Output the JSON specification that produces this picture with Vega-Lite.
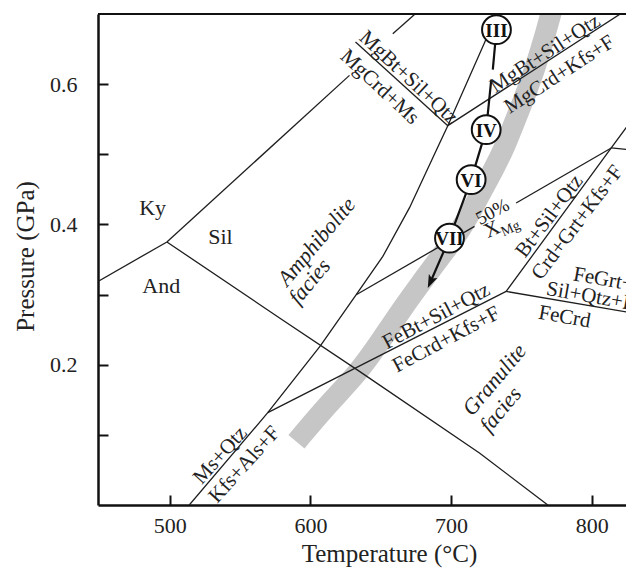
{
  "$schema": "https://vega.github.io/schema/vega-lite/v6.json",
  "width": 528,
  "height": 491,
  "autosize": {"type": "none"},
  "padding": {"left": 98, "top": 14, "right": 0, "bottom": 64},
  "background": "white",
  "config": {"view": {"stroke": null}, "font": "Liberation Serif"},
  "encoding": {
    "x": {
      "field": "T", "type": "quantitative",
      "scale": {"domain": [449, 824.4], "nice": false, "zero": false},
      "axis": {
        "values": [500, 600, 700, 800], "format": "d", "grid": false,
        "title": "Temperature (°C)",
        "tickSize": -10, "tickWidth": 2, "tickColor": "#111",
        "domainColor": "#111", "domainWidth": 2.5,
        "labelFont": "Liberation Serif", "labelFontSize": 22, "labelColor": "#222", "labelPadding": 20,
        "titleFont": "Liberation Serif", "titleFontSize": 25, "titleFontWeight": "normal", "titleColor": "#222",
        "titleX": 291, "titleY": 56, "titleAlign": "center", "titleBaseline": "alphabetic"
      }
    },
    "y": {
      "field": "P", "type": "quantitative",
      "scale": {"domain": [0, 0.7], "nice": false, "zero": false},
      "axis": {
        "values": [0.1, 0.2, 0.3, 0.4, 0.5, 0.6], "grid": false,
        "labelExpr": "round(datum.value*10) % 2 == 0 ? format(datum.value, '.1f') : ''",
        "title": "Pressure (GPa)",
        "tickSize": -10, "tickWidth": 2, "tickColor": "#111",
        "domainColor": "#111", "domainWidth": 2.5,
        "labelFont": "Liberation Serif", "labelFontSize": 22, "labelColor": "#222", "labelPadding": 31,
        "titleFont": "Liberation Serif", "titleFontSize": 25, "titleFontWeight": "normal", "titleColor": "#222",
        "titleX": -65, "titleY": 242, "titleAngle": -90, "titleAlign": "center", "titleBaseline": "alphabetic"
      }
    }
  },
  "layer": [
    {
      "data": {"values": [
        {"T": 590.1, "P": 0.0902}, {"T": 610.8, "P": 0.1401}, {"T": 634.2, "P": 0.1886},
        {"T": 650.6, "P": 0.2357}, {"T": 666.2, "P": 0.2827}, {"T": 680.4, "P": 0.3212},
        {"T": 691.8, "P": 0.3526}, {"T": 703.2, "P": 0.3811}, {"T": 713.1, "P": 0.4139},
        {"T": 722.4, "P": 0.4495}, {"T": 730.2, "P": 0.478}, {"T": 738.0, "P": 0.5094},
        {"T": 745.8, "P": 0.5493}, {"T": 754.4, "P": 0.5921}, {"T": 762.9, "P": 0.642},
        {"T": 771.4, "P": 0.7019}, {"T": 774.2, "P": 0.728}
      ]},
      "mark": {"type": "line", "stroke": "#c6c6c6", "strokeWidth": 21, "strokeCap": "butt", "interpolate": "basis", "clip": true}
    },
    {
      "data": {"values": [
        {"id": "kyand", "T": 449, "P": 0.3188}, {"id": "kyand", "T": 498, "P": 0.375},
        {"id": "kysil1", "T": 498, "P": 0.375}, {"id": "kysil1", "T": 627.8, "P": 0.6125},
        {"id": "kysil2", "T": 658.6, "P": 0.672}, {"id": "kysil2", "T": 676.7, "P": 0.704},
        {"id": "andsil", "T": 498, "P": 0.375}, {"id": "andsil", "T": 578.1, "P": 0.2666},
        {"id": "andsil", "T": 634.9, "P": 0.1905}, {"id": "andsil", "T": 720.2, "P": 0.0741},
        {"id": "andsil", "T": 768.8, "P": 0},
        {"id": "msout", "T": 513.9, "P": 0}, {"id": "msout", "T": 569.7, "P": 0.1316},
        {"id": "msout", "T": 607.2, "P": 0.2271}, {"id": "msout", "T": 632.6, "P": 0.2998},
        {"id": "msout", "T": 651.5, "P": 0.3544}, {"id": "msout", "T": 670.5, "P": 0.4239},
        {"id": "msout", "T": 689.7, "P": 0.5066}, {"id": "msout", "T": 697.7, "P": 0.5408},
        {"id": "msout", "T": 723.8, "P": 0.6591}, {"id": "msout", "T": 734.5, "P": 0.71},
        {"id": "mgms", "T": 632.1, "P": 0.6601}, {"id": "mgms", "T": 697.7, "P": 0.5408},
        {"id": "mgkfs", "T": 697.7, "P": 0.5408}, {"id": "mgkfs", "T": 830, "P": 0.7126},
        {"id": "febt", "T": 569.7, "P": 0.1316}, {"id": "febt", "T": 739.2, "P": 0.3045},
        {"id": "fegrt", "T": 739.2, "P": 0.3045}, {"id": "fegrt", "T": 830, "P": 0.2735},
        {"id": "btsil", "T": 739.2, "P": 0.3045}, {"id": "btsil", "T": 813.9, "P": 0.509}, {"id": "btsil", "T": 830, "P": 0.553},
        {"id": "right", "T": 813.9, "P": 0.509}, {"id": "right", "T": 830, "P": 0.506},
        {"id": "xmg1", "T": 632.6, "P": 0.2998}, {"id": "xmg1", "T": 716.7, "P": 0.3972},
        {"id": "xmg2", "T": 746.3, "P": 0.4306}, {"id": "xmg2", "T": 813.9, "P": 0.509}
      ]},
      "mark": {"type": "line", "stroke": "#1e1e1e", "strokeWidth": 1.3, "clip": true},
      "encoding": {"detail": {"field": "id"}}
    },
    {
      "data": {"values": [{"T": 449, "T2": 824.4, "P": 0.7}]},
      "mark": {"type": "rule", "stroke": "#111", "strokeWidth": 2},
      "encoding": {"x2": {"field": "T2"}}
    },
    {
      "data": {"values": [
        {"id": "p1", "T": 732.3, "P": 0.6776}, {"id": "p1", "T": 729.7, "P": 0.6206},
        {"id": "p2", "T": 728.6, "P": 0.6064}, {"id": "p2", "T": 725.0, "P": 0.5351},
        {"id": "p2", "T": 714.3, "P": 0.4638}, {"id": "p2", "T": 698.9, "P": 0.3804},
        {"id": "p2", "T": 685.7, "P": 0.3194}
      ]},
      "mark": {"type": "line", "stroke": "#111", "strokeWidth": 2.2},
      "encoding": {"detail": {"field": "id"}}
    },
    {
      "data": {"values": [{"T": 685.7, "P": 0.3194}]},
      "mark": {"type": "point", "shape": "M0,1L-0.6,-0.7L0,-0.35L0.6,-0.7Z", "size": 240, "angle": 24, "filled": true, "color": "#111", "opacity": 1}
    },
    {
      "data": {"values": [
        {"s": "III", "T": 732.3, "P": 0.6776}, {"s": "IV", "T": 725.0, "P": 0.5351},
        {"s": "VI", "T": 714.3, "P": 0.4638}, {"s": "VII", "T": 698.9, "P": 0.3804}
      ]},
      "mark": {"type": "point", "shape": "circle", "size": 830, "filled": true, "fill": "white", "stroke": "#111", "strokeWidth": 2, "opacity": 1}
    },
    {
      "data": {"values": [
        {"s": "III", "T": 732.3, "P": 0.6776}, {"s": "IV", "T": 725.0, "P": 0.5351},
        {"s": "VI", "T": 714.3, "P": 0.4638}, {"s": "VII", "T": 698.9, "P": 0.3804}
      ]},
      "mark": {"type": "text", "font": "Liberation Serif", "fontWeight": "bold", "fontSize": 19, "color": "#111", "align": "center", "baseline": "middle", "dy": 1},
      "encoding": {"text": {"field": "s"}}
    },
    {
      "data": {"values": [
        {"s": "Ky", "T": 487.8, "P": 0.4239}, {"s": "Sil", "T": 536.1, "P": 0.3825}, {"s": "And", "T": 494.0, "P": 0.3117}
      ]},
      "mark": {"type": "text", "font": "Liberation Serif", "fontSize": 22, "color": "#222", "align": "center", "baseline": "middle"},
      "encoding": {"text": {"field": "s"}}
    },
    {
      "data": {"values": [
        {"s": "Amphibolite", "T": 604.4, "P": 0.3754}, {"s": "facies", "T": 599.4, "P": 0.3184},
        {"s": "Granulite", "T": 730.9, "P": 0.1786}, {"s": "facies", "T": 735.2, "P": 0.1359}
      ]},
      "mark": {"type": "text", "font": "Liberation Serif", "fontStyle": "italic", "fontSize": 22, "color": "#222", "align": "center", "baseline": "middle", "angle": -50},
      "encoding": {"text": {"field": "s"}}
    },
    {
      "data": {"values": [
        {"s": "MgBt+Sil+Qtz", "T": 669.8, "P": 0.6092}, {"s": "MgCrd+Ms", "T": 649.2, "P": 0.5957}
      ]},
      "mark": {"type": "text", "font": "Liberation Serif", "fontSize": 21, "color": "#222", "align": "center", "baseline": "middle", "angle": 43},
      "encoding": {"text": {"field": "s"}}
    },
    {
      "data": {"values": [
        {"s": "MgBt+Sil+Qtz", "T": 767.0, "P": 0.6434}, {"s": "MgCrd+Kfs+F", "T": 777.1, "P": 0.6135}
      ]},
      "mark": {"type": "text", "font": "Liberation Serif", "fontSize": 21, "color": "#222", "align": "center", "baseline": "middle", "angle": -33},
      "encoding": {"text": {"field": "s"}}
    },
    {
      "data": {"values": [
        {"s": "FeBt+Sil+Qtz", "T": 689.5, "P": 0.2689}, {"s": "FeCrd+Kfs+F", "T": 696.6, "P": 0.2357}
      ]},
      "mark": {"type": "text", "font": "Liberation Serif", "fontSize": 21, "color": "#222", "align": "center", "baseline": "middle", "angle": -28},
      "encoding": {"text": {"field": "s"}}
    },
    {
      "data": {"values": [
        {"s": "Ms+Qtz", "T": 536.0, "P": 0.0706}, {"s": "Kfs+Als+F", "T": 553.2, "P": 0.0575}
      ]},
      "mark": {"type": "text", "font": "Liberation Serif", "fontSize": 21, "color": "#222", "align": "center", "baseline": "middle", "angle": -48},
      "encoding": {"text": {"field": "s"}}
    },
    {
      "data": {"values": [
        {"s": "Bt+Sil+Qtz", "T": 770.0, "P": 0.4115}, {"s": "Crd+Grt+Kfs+F", "T": 789.9, "P": 0.4025}
      ]},
      "mark": {"type": "text", "font": "Liberation Serif", "fontSize": 21, "color": "#222", "align": "center", "baseline": "middle", "angle": -53},
      "encoding": {"text": {"field": "s"}}
    },
    {
      "data": {"values": [{"s": "FeCrd", "T": 780.7, "P": 0.2678}]},
      "mark": {"type": "text", "font": "Liberation Serif", "fontSize": 21, "color": "#222", "align": "center", "baseline": "middle", "angle": 10},
      "encoding": {"text": {"field": "s"}}
    },
    {
      "data": {"values": [
        {"s": "FeGrt+", "T": 786.3, "P": 0.3205}, {"s": "Sil+Qtz+F", "T": 767.2, "P": 0.2998}
      ]},
      "mark": {"type": "text", "font": "Liberation Serif", "fontSize": 21, "color": "#222", "align": "left", "baseline": "alphabetic", "angle": 10},
      "encoding": {"text": {"field": "s"}}
    },
    {
      "data": {"values": [{"s": "50%", "T": 729.5, "P": 0.4182}]},
      "mark": {"type": "text", "font": "Liberation Serif", "fontSize": 19, "color": "#222", "align": "center", "baseline": "middle", "angle": -28},
      "encoding": {"text": {"field": "s"}}
    },
    {
      "data": {"values": [{"s": "X", "T": 729.1, "P": 0.3925}]},
      "mark": {"type": "text", "font": "Liberation Serif", "fontSize": 21, "color": "#222", "align": "center", "baseline": "middle", "angle": -25},
      "encoding": {"text": {"field": "s"}}
    },
    {
      "data": {"values": [{"s": "Mg", "T": 742.3, "P": 0.3939}]},
      "mark": {"type": "text", "font": "Liberation Serif", "fontSize": 14, "color": "#222", "align": "center", "baseline": "middle", "angle": -25},
      "encoding": {"text": {"field": "s"}}
    }
  ]
}
